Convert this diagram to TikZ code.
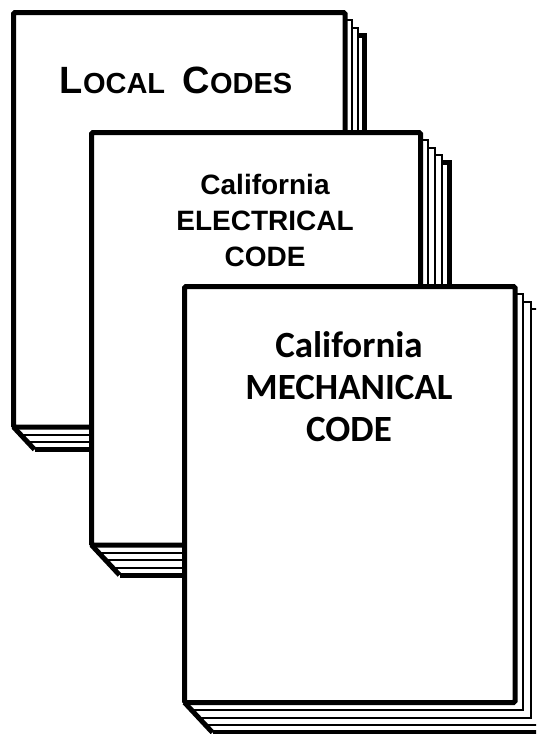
\documentclass[tikz,border=0pt]{standalone}
\usepackage{fontspec}
\newfontfamily\arialfont{Liberation Sans}
\newfontfamily\calibrifont{Carlito}
\usepackage{tikz}
\usetikzlibrary{positioning}
\tikzset{cover/.style = {draw, line width = 5pt, fill = white, rounded corners = 1.5pt}}
\tikzset{backcover/.style = {line width = 5pt}}
\tikzset{sheet/.style = {line width = 2pt}}
\tikzset{title/.style = {align = center, inner sep = 0pt}}

% one book: left, top, right, bottom, number of sheets behind the cover, step of the sheets at the right
\newcommand{\codebook}[6]{%
	\foreach \k in {#5,...,1} {
		\fill[white] (#1,#4) -- ({#1+\k*7},{#4+\k*7.5}) -- ({#3+\k*#6},{#4+\k*7.5})
			-- ({#3+\k*#6},{#2+\k*7.5}) -- (#1,{#2+\k*7.5}) -- cycle;
		\ifnum\k=#5
			\draw[backcover] ({#3+(\k-1)*#6},{#2+\k*7.5}) -- ({#3+\k*#6},{#2+\k*7.5})
				-- ({#3+\k*#6},{#4+\k*7.5}) -- ({#1+\k*7},{#4+\k*7.5});
		\else
			\draw[sheet] ({#3+(\k-1)*#6},{#2+\k*7.5}) -- ({#3+\k*#6},{#2+\k*7.5})
				-- ({#3+\k*#6},{#4+\k*7.5}) -- ({#1+\k*7},{#4+\k*7.5});
		\fi
	}
	\draw[backcover] (#1,#4) -- ({#1+#5*7},{#4+#5*7.5});
	\draw[cover] (#1,#2) rectangle (#3,#4);
}

\begin{document}
\begin{tikzpicture}[x = 1pt, y = -1pt]
	\useasboundingbox (0,0) rectangle (536,734);
	\clip (0,0) rectangle (536,734);

	\codebook{13.5}{12.5}{345}{427}{3}{6.5}
	\node[title, font = \arialfont\bfseries] (local) at (176,80) {%
		\fontsize{38}{44}\selectfont L\fontsize{29}{34}\selectfont OCAL\hspace{0.6em}%
		\fontsize{38}{44}\selectfont C\fontsize{29}{34}\selectfont ODES};

	\codebook{91.5}{132.5}{420.5}{545}{4}{7.2}
	\node[title, font = \arialfont\bfseries\fontsize{28}{36}\selectfont] (electrical) at (265,220)
		{California\\ELECTRICAL\\CODE};

	\codebook{184.5}{286.5}{515}{702.5}{4}{8}
	\node[title, font = \calibrifont\bfseries\fontsize{37}{42}\selectfont] (mechanical) at (349,387)
		{California\\MECHANICAL\\CODE};
\end{tikzpicture}
\end{document}
